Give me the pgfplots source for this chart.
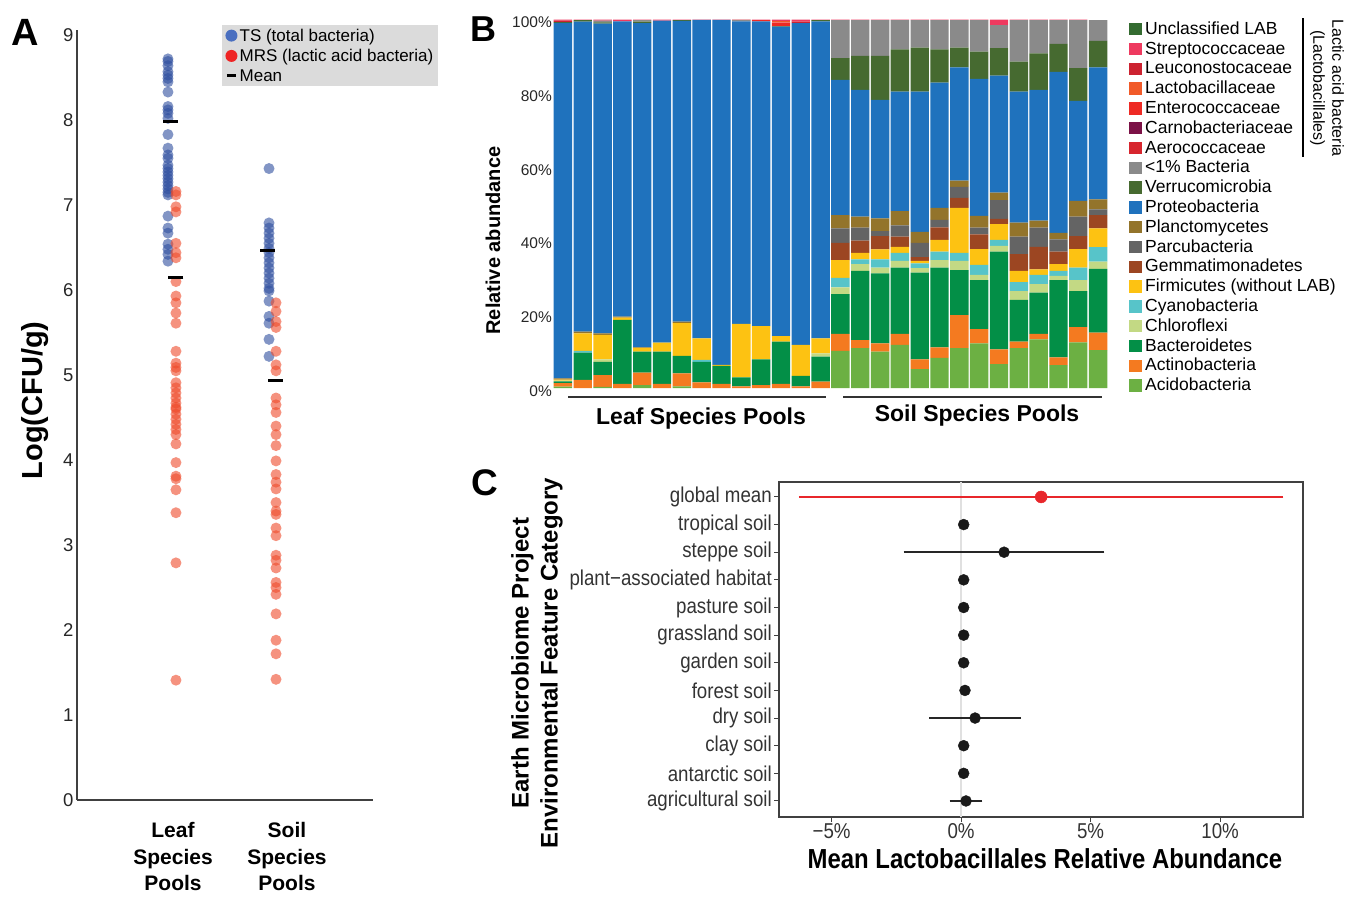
\documentclass[border=0pt]{standalone}
\usepackage{fontspec}
\setmainfont{Liberation Sans}
\newfontfamily\narrow[FakeStretch=0.87]{Liberation Sans}
\usepackage{pgfplots}
\usepackage{pgfplotstable}
\pgfplotsset{compat=1.18}
\pgfplotsset{/pgf/number format/assume math mode=true}
\newcommand\fs[2]{\fontsize{#1}{#2}\selectfont}

% panel A colours
\definecolor{tsblue}{HTML}{2F4F9F}
\definecolor{mrsred}{HTML}{EE4A2A}
\definecolor{tsleg}{HTML}{4A6FC0}
\definecolor{mrsleg}{HTML}{EE2424}
% panel B colours
\definecolor{cAcid}{HTML}{6CB043}
\definecolor{cActn}{HTML}{F47A20}
\definecolor{cBact}{HTML}{038F47}
\definecolor{cChlo}{HTML}{C3D984}
\definecolor{cCyan}{HTML}{57C4C9}
\definecolor{cFirm}{HTML}{FDC212}
\definecolor{cGemm}{HTML}{9C4622}
\definecolor{cParc}{HTML}{646464}
\definecolor{cPlan}{HTML}{93742B}
\definecolor{cProt}{HTML}{1F72BD}
\definecolor{cVerr}{HTML}{466A30}
\definecolor{cOth}{HTML}{8A8A8A}
\definecolor{cAero}{HTML}{D7262E}
\definecolor{cCarn}{HTML}{7B1146}
\definecolor{cEnte}{HTML}{EE2A24}
\definecolor{cLact}{HTML}{F15A29}
\definecolor{cLeuc}{HTML}{CC2230}
\definecolor{cStre}{HTML}{EE3A5F}
\definecolor{cUncl}{HTML}{346B30}
% panel C
\definecolor{gmred}{HTML}{E8262B}

% relative abundance (%), bars 0-13 leaf pools, 14-27 soil pools
\pgfplotstableread{
x Acid Actn Bact Chlo Cyan Firm Gemm Parc Plan Prot Verr Oth Aero Carn Ente Lact Leuc Stre Uncl
0 0.4 0.9 0.5 0.2 0 0.3 0 0 0.3 96.5 0.2 0 0 0 0 0 0.4 0.3 0
1 0 2.2 7.4 0 0.5 4.7 0 0 0.5 84.1 0.4 0 0 0 0 0 0 0.2 0
2 0.3 3.2 3.6 0.7 0 6.6 0 0 0.4 84.1 0.3 0.5 0 0 0 0 0 0.3 0
3 0 1.1 17.4 0 0 0.6 0 0 0.3 80.1 0 0 0 0 0 0 0 0.5 0
4 0.8 3.4 5.7 0 0 1.0 0 0 0.1 88.0 0.4 0.4 0 0 0 0 0 0.2 0
5 0 1.1 8.8 0 0 2.4 0 0 0 87.4 0 0 0 0 0 0 0 0.3 0
6 0.45 3.55 4.7 0 0 8.9 0 0 0.4 81.6 0.2 0 0 0 0 0 0 0.2 0
7 0 1.5 5.6 0 0.5 5.9 0 0 0 86.4 0 0 0 0 0 0 0 0.1 0
8 0 1.1 4.9 0 0 0.3 0 0 0 93.6 0 0 0 0 0 0 0 0.1 0
9 0 0.45 2.45 0 0 14.5 0 0 0 82.1 0 0.3 0 0 0 0 0.2 0 0
10 0 0.8 7.0 0 0 9.0 0 0 0 82.7 0 0 0 0 0.3 0 0 0.2 0
11 0 1.1 11.5 0 0 1.5 0 0 0 84.0 0.1 0 0 0 1.0 0.4 0 0.4 0
12 0 0.45 2.85 0 0 8.4 0 0 0 87.3 0 0 0 0 0 0 0.4 0.6 0
13 0 1.7 6.8 0.9 0 4.1 0 0 0 86.0 0.3 0 0 0 0 0 0 0.2 0
14 10.1 4.6 10.8 1.8 2.6 4.8 4.7 3.9 3.6 36.7 5.9 10.3 0 0 0 0 0 0.2 0
15 10.8 2.2 18.8 1.8 1.3 1.8 3.3 3.5 3.0 34.4 9.2 9.7 0 0 0 0 0 0.2 0
16 9.9 2.2 19.0 1.6 2.2 2.7 3.6 1.4 3.4 32.2 11.9 9.7 0 0 0 0 0 0.2 0
17 11.7 3.0 18.0 1.8 2.2 1.6 2.8 3.0 3.9 32.4 11.5 7.9 0 0 0 0 0 0.2 0
18 5.1 2.7 23.5 1.2 1.3 0.7 1.0 3.9 3.0 38.0 12.0 7.4 0 0 0 0 0 0.2 0
19 8.2 2.8 21.7 2.0 2.3 3.2 3.4 2.0 3.3 34.0 9.0 7.9 0 0 0 0 0 0.2 0
20 10.8 9.0 12.2 2.5 2.2 12.2 2.7 3.0 1.7 30.7 5.4 7.4 0 0 0 0 0 0.2 0
21 12.1 3.9 13.3 1.4 2.7 4.3 4.0 1.8 3.2 37.2 7.4 8.5 0 0 0 0 0 0.2 0
22 6.5 4.0 26.5 1.6 1.6 4.3 1.4 5.1 2.0 31.8 7.4 6.3 0 0 0 0 0 1.5 0
23 10.8 1.8 11.3 2.4 2.4 3.1 4.5 4.8 3.8 35.5 8.2 11.2 0 0 0 0 0 0.2 0
24 13.2 1.5 11.2 2.3 2.5 1.5 6.1 5.2 1.9 35.5 9.9 9.0 0 0 0 0 0 0.2 0
25 6.2 2.1 21.0 1.1 1.4 1.8 3.4 3.3 1.8 43.7 7.6 6.4 0 0 0 0 0 0.2 0
26 12.4 4.1 9.8 3.0 3.4 5.0 3.5 5.3 4.3 27.1 8.9 13.0 0 0 0 0 0 0.2 0
27 10.3 4.7 17.3 2.0 3.9 5.1 3.6 1.6 2.7 35.8 7.2 5.6 0 0 0 0 0 0 0.2
}\abund

\begin{document}
\begin{tikzpicture}
\useasboundingbox (0pt,0pt) rectangle (1347pt,-897pt);

% ---------------- panel A ----------------
\node[anchor=base west,inner sep=0pt,font=\bfseries\fs{38}{38}] at (11pt,-45pt) {A};
\begin{axis}[
  at={(77pt,-800pt)}, anchor=south west, scale only axis,
  width=296pt, height=770pt,
  xmin=0, xmax=3, ymin=0, ymax=9.06,
  axis lines*=left, axis line style={black!75, line width=1.2pt},
  major tick length=0pt,
  ytick={0,...,9},
  yticklabel style={font=\fs{18.5}{18.5}, text=black!85},
  xtick={0.973,2.128},
  xticklabels={Leaf\\Species\\Pools, Soil\\Species\\Pools},
  xticklabel style={align=center, font=\bfseries\fs{21}{26.5}, yshift=-19pt},
  ylabel={Log(CFU/g)},
  every axis y label/.style={at={(axis description cs:-0.142,0.519)}, rotate=90, anchor=center},
  ylabel style={font=\bfseries\fs{29}{29}},
  clip=false,
  legend style={at={(axis description cs:0.49,1.0065)}, anchor=north west,
    fill=black!14, draw=none, font=\fs{17}{20}, inner xsep=3pt, inner ysep=1.5pt,
    row sep=2.5pt, cells={anchor=west}},
]
\addplot[only marks, mark=*, mark size=5.5pt, color=tsblue, fill opacity=0.6, draw opacity=0,
  legend image code/.code={\fill[tsleg, fill opacity=1] (6pt,0pt) circle (6pt);}]
  coordinates {
  (0.922,8.72) (0.922,8.69) (0.922,8.64) (0.922,8.57) (0.922,8.53) (0.922,8.49) (0.922,8.45)
  (0.922,8.33) (0.922,8.16) (0.922,8.12) (0.922,8.08) (0.922,8.02) (0.922,7.83) (0.922,7.67)
  (0.922,7.59) (0.922,7.55) (0.922,7.47) (0.922,7.43) (0.922,7.39) (0.922,7.35) (0.922,7.31)
  (0.922,7.27) (0.922,7.23) (0.922,7.19) (0.922,7.15) (0.922,7.12) (0.922,6.87) (0.922,6.73)
  (0.922,6.67) (0.922,6.54) (0.922,6.48) (0.922,6.42) (0.922,6.34)
  (1.946,7.43) (1.946,6.79) (1.946,6.73) (1.946,6.67) (1.946,6.61) (1.946,6.55) (1.946,6.49)
  (1.946,6.44) (1.946,6.38) (1.946,6.32) (1.946,6.26) (1.946,6.20) (1.946,6.14) (1.946,6.08)
  (1.946,6.02) (1.946,5.99) (1.946,5.87) (1.946,5.69) (1.946,5.61) (1.946,5.42) (1.946,5.22)
  };
\addlegendentry{TS (total bacteria)}
\addplot[only marks, mark=*, mark size=5.5pt, color=mrsred, fill opacity=0.6, draw opacity=0,
  legend image code/.code={\fill[mrsleg, fill opacity=1] (6pt,0pt) circle (6pt);}]
  coordinates {
  (1.003,7.16) (1.003,7.12) (1.003,6.98) (1.003,6.92) (1.003,6.55) (1.003,6.44) (1.003,6.38)
  (1.003,6.10) (1.003,5.93) (1.003,5.85) (1.003,5.73) (1.003,5.61) (1.003,5.28) (1.003,5.14)
  (1.003,5.09) (1.003,5.05) (1.003,4.91) (1.003,4.85) (1.003,4.79) (1.003,4.73) (1.003,4.67)
  (1.003,4.62) (1.003,4.60) (1.003,4.54) (1.003,4.48) (1.003,4.42) (1.003,4.36) (1.003,4.30)
  (1.003,4.19) (1.003,3.97) (1.003,3.81) (1.003,3.78) (1.003,3.65) (1.003,3.38) (1.003,2.79)
  (1.003,1.41)
  (2.017,5.85) (2.017,5.75) (2.017,5.63) (2.017,5.56) (2.017,5.28) (2.017,5.12) (2.017,5.05)
  (2.017,4.73) (2.017,4.65) (2.017,4.56) (2.017,4.40) (2.017,4.30) (2.017,4.17) (2.017,3.99)
  (2.017,3.83) (2.017,3.74) (2.017,3.66) (2.017,3.50) (2.017,3.40) (2.017,3.36) (2.017,3.20)
  (2.017,3.11) (2.017,2.88) (2.017,2.82) (2.017,2.73) (2.017,2.56) (2.017,2.50) (2.017,2.42)
  (2.017,2.19) (2.017,1.88) (2.017,1.72) (2.017,1.42)
  };
\addlegendentry{MRS (lactic acid bacteria)}
\addplot[only marks, mark=-, mark size=7.5pt, mark options={line width=3pt}, black,
  legend image code/.code={\draw[line width=3pt, black] (1.5pt,0pt) -- (10.5pt,0pt);}]
  coordinates {(0.943,7.98) (1.003,6.15) (1.93,6.47) (2.007,4.94)};
\addlegendentry{Mean}
\end{axis}

% ---------------- panel B ----------------
\node[anchor=base west,inner sep=0pt,font=\bfseries\fs{36}{36}] at (470pt,-41pt) {B};
\begin{axis}[
  at={(553pt,-388pt)}, anchor=south west, scale only axis,
  width=555pt, height=368.5pt,
  xmin=-0.5, xmax=27.5, ymin=0, ymax=100,
  ybar stacked, bar width=18.4pt,
  axis line style={draw=none}, major tick length=0pt,
  xtick=\empty, ytick={0,20,...,100},
  yticklabel={\pgfmathprintnumber{\tick}\%},
  yticklabel style={font=\fs{15.5}{15.5}, text=black!85, inner xsep=1pt, yshift=-3pt},
  ylabel={Relative abundance},
  every axis y label/.style={at={(axis description cs:-0.108,0.40)}, rotate=90, anchor=center},
  ylabel style={font=\bfseries\fs{20}{20}},
  clip=false,
  reverse legend,
  legend image code/.code={\fill[#1] (0pt,-4.6pt) rectangle (12.5pt,7.8pt);},
  legend style={at={(axis description cs:1.0378,0.997)}, anchor=north west,
    draw=none, fill=none, font=\fs{17.5}{17.5}, inner sep=0pt, row sep=0pt,
    column sep=0pt, cells={anchor=west},
    nodes={inner xsep=3.5pt, inner ysep=0pt, text height=13.4pt, text depth=6.4pt}},
]
\addplot[fill=cAcid, draw=none] table[x=x, y=Acid] {\abund};
\addplot[fill=cActn, draw=none] table[x=x, y=Actn] {\abund};
\addplot[fill=cBact, draw=none] table[x=x, y=Bact] {\abund};
\addplot[fill=cChlo, draw=none] table[x=x, y=Chlo] {\abund};
\addplot[fill=cCyan, draw=none] table[x=x, y=Cyan] {\abund};
\addplot[fill=cFirm, draw=none] table[x=x, y=Firm] {\abund};
\addplot[fill=cGemm, draw=none] table[x=x, y=Gemm] {\abund};
\addplot[fill=cParc, draw=none] table[x=x, y=Parc] {\abund};
\addplot[fill=cPlan, draw=none] table[x=x, y=Plan] {\abund};
\addplot[fill=cProt, draw=none] table[x=x, y=Prot] {\abund};
\addplot[fill=cVerr, draw=none] table[x=x, y=Verr] {\abund};
\addplot[fill=cOth, draw=none] table[x=x, y=Oth] {\abund};
\addplot[fill=cAero, draw=none] table[x=x, y=Aero] {\abund};
\addplot[fill=cCarn, draw=none] table[x=x, y=Carn] {\abund};
\addplot[fill=cEnte, draw=none] table[x=x, y=Ente] {\abund};
\addplot[fill=cLact, draw=none] table[x=x, y=Lact] {\abund};
\addplot[fill=cLeuc, draw=none] table[x=x, y=Leuc] {\abund};
\addplot[fill=cStre, draw=none] table[x=x, y=Stre] {\abund};
\addplot[fill=cUncl, draw=none] table[x=x, y=Uncl] {\abund};
\legend{Acidobacteria, Actinobacteria, Bacteroidetes, Chloroflexi, Cyanobacteria,
  Firmicutes (without LAB), Gemmatimonadetes, Parcubacteria, Planctomycetes,
  Proteobacteria, Verrucomicrobia, <1\% Bacteria, Aerococcaceae, Carnobacteriaceae,
  Enterococcaceae, Lactobacillaceae, Leuconostocaceae, Streptococcaceae, Unclassified LAB}
\end{axis}
\draw[black!80, line width=1.5pt] (568pt,-397pt) -- (826pt,-397pt);
\draw[black!80, line width=1.5pt] (843pt,-397pt) -- (1102pt,-397pt);
\node[font=\bfseries\fs{23}{23}] at (701pt,-419pt) {Leaf Species Pools};
\node[font=\bfseries\fs{23}{23}] at (977pt,-416pt) {Soil Species Pools};
\draw[black, line width=2pt] (1303pt,-18pt) -- (1303pt,-157pt);
\node[rotate=-90, align=center, font=\fs{16}{19}] at (1327pt,-88pt)
  {Lactic acid bacteria\\(Lactobacillales)};

% ---------------- panel C ----------------
\node[anchor=base west,inner sep=0pt,font=\bfseries\fs{37}{37}] at (471pt,-495pt) {C};
\begin{axis}[
  at={(779pt,-817pt)}, anchor=south west, scale only axis,
  width=524pt, height=335pt,
  xmin=-7.03, xmax=13.2, ymin=0.42, ymax=12.54,
  axis line style={black!75, line width=1.3pt},
  tick style={black!75, line width=1pt},
  tick align=outside, major tick length=5pt,
  xtick pos=bottom, ytick pos=left,
  xtick={-5,0,5,10},
  xticklabels={−5\%, 0\%, 5\%, 10\%},
  ytick={1,...,12},
  yticklabels={agricultural soil, antarctic soil, clay soil, dry soil, forest soil,
    garden soil, grassland soil, pasture soil, plant−associated habitat, steppe soil,
    tropical soil, global mean},
  ticklabel style={font=\narrow\fs{21.5}{21.5}, text=black!80},
  yticklabel style={inner xsep=2pt},
  xticklabel style={inner ysep=1pt},
  xlabel={Mean Lactobacillales Relative Abundance},
  every axis x label/.style={at={(axis description cs:0.5076,-0.125)}, anchor=center},
  xlabel style={font=\narrow\bfseries\fs{27.5}{27.5}},
  ylabel={Earth Microbiome Project\\Environmental Feature Category},
  every axis y label/.style={at={(axis description cs:-0.4620,0.4597)}, rotate=90, anchor=center},
  ylabel style={align=center, font=\bfseries\fs{24}{29}},
]
\addplot[black!12, line width=1.3pt] coordinates {(0,0.42) (0,12.54)};
\addplot[only marks, mark=*, mark size=5.5pt, black!90]
  coordinates {(0.1,2) (0.1,3) (0.15,5) (0.1,6) (0.1,7) (0.1,8) (0.1,9) (0.1,11)};
\addplot[only marks, mark=*, mark size=5.5pt, black!90,
  error bars/.cd, x dir=both, x explicit,
  error bar style={line width=1.5pt, black!85},
  error mark options={mark size=4pt, line width=1.5pt, black!85}]
  coordinates {(0.19,1) +- (0.48,0) (0.54,4) +- (1.62,0) (1.66,10) +- (3.72,0)};
\addplot[only marks, mark=*, mark size=6pt, gmred,
  error bars/.cd, x dir=both, x explicit,
  error bar style={line width=1.3pt, gmred},
  error mark options={mark size=4pt, line width=1.3pt, gmred}]
  coordinates {(3.09,12) +- (9.2,0)};
\end{axis}
\end{tikzpicture}
\end{document}
